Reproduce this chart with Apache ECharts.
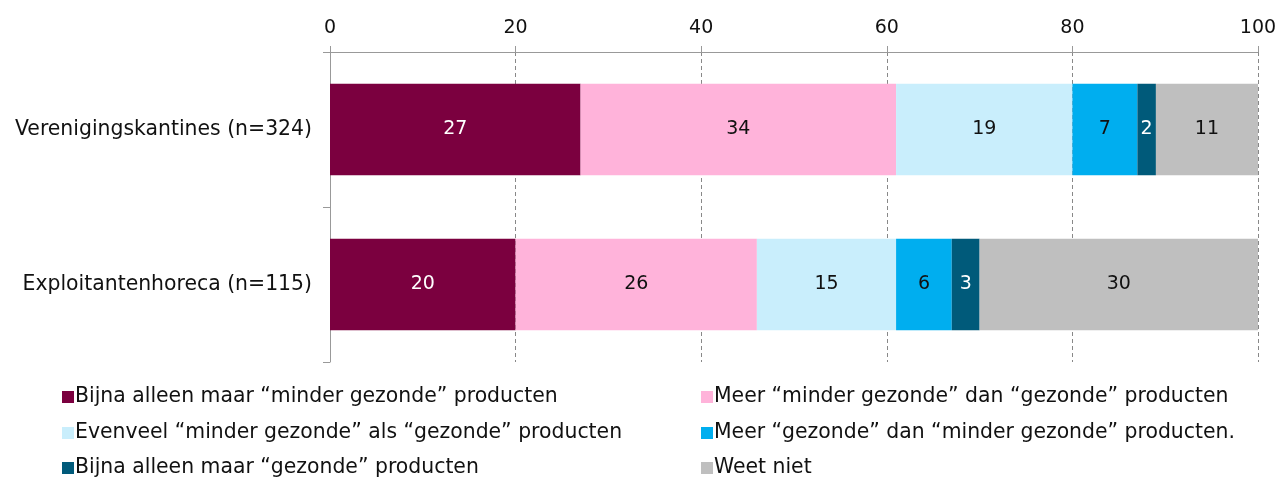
<!DOCTYPE html>
<html>
<head>
<meta charset="utf-8">
<script src="https://cdn.jsdelivr.net/npm/echarts@6/dist/echarts.min.js"></script>
<style>
html,body{margin:0;padding:0;background:#fff;}
#chart{width:1288px;height:477px;}
</style>
</head>
<body>
<div id="chart"></div>
<script>
var categories = ['Verenigingskantines (n=324)', 'Exploitantenhoreca (n=115)'];
var seriesNames = [
  'Bijna alleen maar \u201cminder gezonde\u201d producten',
  'Meer \u201cminder gezonde\u201d dan \u201cgezonde\u201d producten',
  'Evenveel \u201cminder gezonde\u201d als \u201cgezonde\u201d producten',
  'Meer \u201cgezonde\u201d dan \u201cminder gezonde\u201d producten.',
  'Bijna alleen maar \u201cgezonde\u201d producten',
  'Weet niet'
];
var bijnaMinder = [27, 20];
var meerMinder = [34, 26];
var evenveel = [19, 15];
var meerGezond = [7, 6];
var bijnaGezond = [2, 3];
var weetNiet = [11, 30];

var colors = ['#7B003F', '#FFB3DA', '#C9EEFC', '#00AEEF', '#005A7A', '#BFBFBF'];
var labelColors = ['#fff', '#111', '#111', '#111', '#fff', '#111'];
var values = [bijnaMinder, meerMinder, evenveel, meerGezond, bijnaGezond, weetNiet];
var font = 'DejaVu Sans';

var series = values.map(function(v, i) {
  return {
    name: seriesNames[i],
    type: 'bar',
    stack: 'total',
    barWidth: '59%',
    data: v,
    itemStyle: { color: colors[i] },
    label: {
      show: true,
      position: 'inside',
      color: labelColors[i],
      fontFamily: font,
      fontSize: 19
    }
  };
});

// two columns, three rows
var legendPos = [[62, 387], [701, 387], [62, 423], [701, 423], [62, 458], [701, 458]];
var legends = seriesNames.map(function(name, i) {
  return {
    left: legendPos[i][0], top: legendPos[i][1], padding: 0,
    itemWidth: 12, itemHeight: 12, icon: 'rect',
    textStyle: { fontFamily: font, fontSize: 20.4, color: '#111', padding: [0, 0, 0, -4] },
    data: [name]
  };
});

var chart = echarts.init(document.getElementById('chart'));
chart.setOption({
  animation: false,
  textStyle: { fontFamily: font },
  grid: { left: 330, right: 30, top: 52, height: 310 },
  xAxis: {
    type: 'value',
    position: 'top',
    min: 0, max: 100, interval: 20,
    axisLine: { show: true, lineStyle: { color: '#999' } },
    axisTick: { show: true, length: 6, lineStyle: { color: '#999' } },
    axisLabel: { color: '#111', fontSize: 19, fontFamily: font, margin: 14 },
    splitLine: { show: true, lineStyle: { color: '#888', type: [4, 3], width: 1 } }
  },
  yAxis: {
    type: 'category',
    inverse: true,
    data: categories,
    axisLine: { show: true, lineStyle: { color: '#999' } },
    axisTick: { show: true, length: 7, lineStyle: { color: '#999' } },
    axisLabel: { fontFamily: font, fontSize: 20.4, color: '#111', margin: 18 }
  },
  legend: legends,
  series: series
});
</script>
</body>
</html>
